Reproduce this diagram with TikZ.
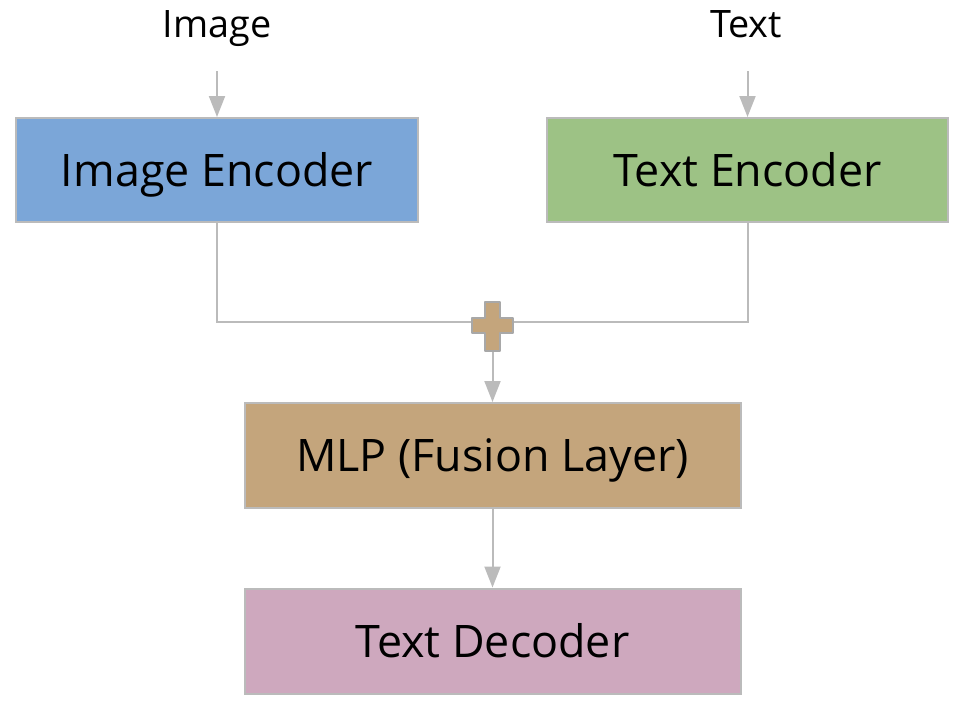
\documentclass[tikz,border=0pt]{standalone}
\usepackage{fontspec}
\setmainfont{Open Sans}
\usetikzlibrary{arrows.meta}

\definecolor{encblue}{HTML}{7BA6D8}
\definecolor{encgreen}{HTML}{9DC285}
\definecolor{fusetan}{HTML}{C4A57C}
\definecolor{decpink}{HTML}{CEA8BE}
\definecolor{edgegray}{HTML}{BBBBBB}
\definecolor{plusgray}{HTML}{A8A8A8}

\tikzset{
  block/.style={draw=edgegray, line width=2pt, inner sep=0pt,
    minimum height=104pt, text height=32pt, text depth=0pt,
    font=\fontsize{44.8}{52}\selectfont},
  inlabel/.style={anchor=base, inner sep=0pt, font=\fontsize{37.8}{44}\selectfont},
  link/.style={draw=edgegray, line width=2pt},
  arr/.style={link, -{Triangle[length=21pt,width=16pt]}}
}

\begin{document}
\begin{tikzpicture}[x=1pt,y=-1pt]
	\useasboundingbox (0,0) rectangle (966,720);
	% inputs
	\node[inlabel] (imglbl) at (217,37.7) {Image};
	\node[inlabel] (txtlbl) at (746,37.7) {Text};
	% encoders
	\node[block, fill=encblue, minimum width=402pt] (imgenc) at (217,170) {Image Encoder};
	\node[block, fill=encgreen, minimum width=401pt] (txtenc) at (747.5,170) {Text Encoder};
	% fusion and decoder
	\node[block, fill=fusetan, minimum width=496pt, minimum height=105pt] (mlp) at (492.5,455.5) {MLP (Fusion Layer)};
	\node[block, fill=decpink, minimum width=496pt, minimum height=105pt] (dec) at (492.5,641) {Text Decoder};
	\coordinate (sum) at (492.5,322);
	\coordinate (sumout) at (492.5,350);
	\coordinate (imgin) at (217,71);
	\coordinate (txtin) at (747.5,71);
	% connectors
	\draw[arr] (imgin) -- (imgenc.north);
	\draw[arr] (txtin) -- (txtenc.north);
	\draw[link] (imgenc.south) |- (sum);
	\draw[link] (txtenc.south) |- (sum);
	\draw[arr] (sumout) -- (mlp.north);
	\draw[arr] (mlp.south) -- (dec.north);
	% plus sign
	\draw[draw=plusgray, fill=fusetan, line width=2.5pt, line join=round]
		(485,302) -- (500,302) -- (500,318) -- (513,318) -- (513,333) -- (500,333)
		-- (500,351) -- (485,351) -- (485,333) -- (472,333) -- (472,318) -- (485,318) -- cycle;
\end{tikzpicture}
\end{document}
